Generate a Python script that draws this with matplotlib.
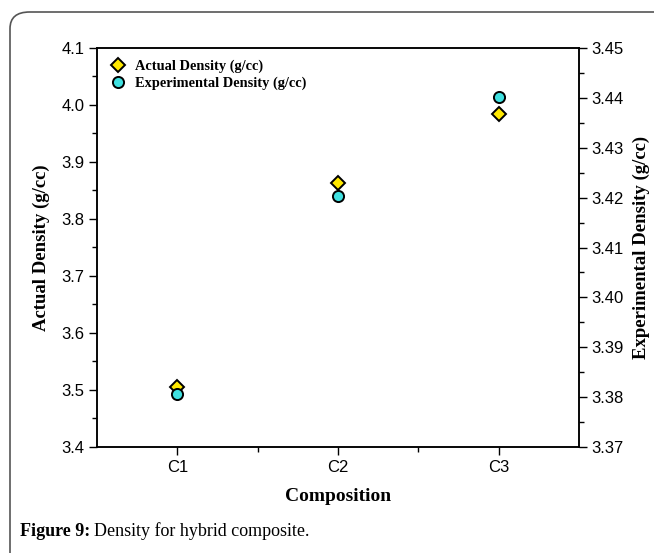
import matplotlib.pyplot as plt
from matplotlib.patches import FancyBboxPatch
from matplotlib.ticker import MultipleLocator, FixedLocator

compositions = ['C1', 'C2', 'C3']
actualDensity = [3.505, 3.864, 3.984]
experimentalDensity = [3.3807, 3.4203, 3.4401]

fig = plt.figure(figsize=(6.54, 5.53), dpi=100)

#rounded frame around figure, cut at right and bottom like the page crop
frame = FancyBboxPatch((10 / 654, -0.1), 1.2, 1.1 - 12 / 553, boxstyle='round,pad=0,rounding_size=0.03',
                       transform=fig.transFigure, fill=False, ec='#555555', lw=1.2)
fig.patches.append(frame)

ax = fig.add_axes([97 / 654, 1 - 447 / 553, (579 - 97) / 654, (447 - 48) / 553])
ax2 = ax.twinx()

xs = list(range(1, len(compositions) + 1))
l1, = ax.plot(xs, actualDensity, ls='none', marker='D', ms=7, mfc='#FFE800', mec='k', mew=1.4,
              label='Actual Density (g/cc)')
l2, = ax2.plot(xs, experimentalDensity, ls='none', marker='o', ms=8, mfc='#40E0E0', mec='k', mew=1.4,
               label='Experimental Density (g/cc)')

ax.set_xlim(0.5, 3.5)
ax.set_ylim(3.4, 4.1)
ax2.set_ylim(3.37, 3.45)
ax.set_xticks(xs)
ax.set_xticklabels(compositions)
ax.xaxis.set_minor_locator(FixedLocator([1.5, 2.5]))
ax.yaxis.set_major_locator(MultipleLocator(0.1))
ax.yaxis.set_minor_locator(MultipleLocator(0.05))
ax2.yaxis.set_major_locator(MultipleLocator(0.01))
ax2.yaxis.set_minor_locator(MultipleLocator(0.005))
ax.yaxis.set_major_formatter(plt.FormatStrFormatter('%.1f'))
ax2.yaxis.set_major_formatter(plt.FormatStrFormatter('%.2f'))

for a in (ax, ax2):
    a.tick_params(which='major', direction='out', length=6, width=1, labelsize=12, pad=3)
    a.tick_params(which='minor', direction='out', length=3.5, width=1)
    for tl in a.get_xticklabels() + a.get_yticklabels():
        tl.set_fontfamily('Liberation Sans')
    for s in a.spines.values():
        s.set_linewidth(1.1)

ax.set_xlabel('Composition', family='Liberation Serif', fontweight='bold', fontsize=14, labelpad=10)
ax.set_ylabel('Actual Density (g/cc)', family='Liberation Serif', fontweight='bold', fontsize=13.5, labelpad=8)
ax2.set_ylabel('Experimental Density (g/cc)', family='Liberation Serif', fontweight='bold', fontsize=13.5, labelpad=6)

ax.legend(handles=[l1, l2], loc='upper left', frameon=False, handletextpad=0.5, borderaxespad=0.4,
          labelspacing=0.25, handlelength=1.3, prop={'family': 'Liberation Serif', 'weight': 'bold', 'size': 10.4})

fig.text(20 / 654, 1 - 531 / 553, 'Figure 9:', family='Liberation Serif', fontweight='bold', fontsize=13, va='center')
fig.text(94 / 654, 1 - 531 / 553, 'Density for hybrid composite.', family='Liberation Serif', fontsize=13, va='center')

fig.savefig('out.png', dpi=100)
